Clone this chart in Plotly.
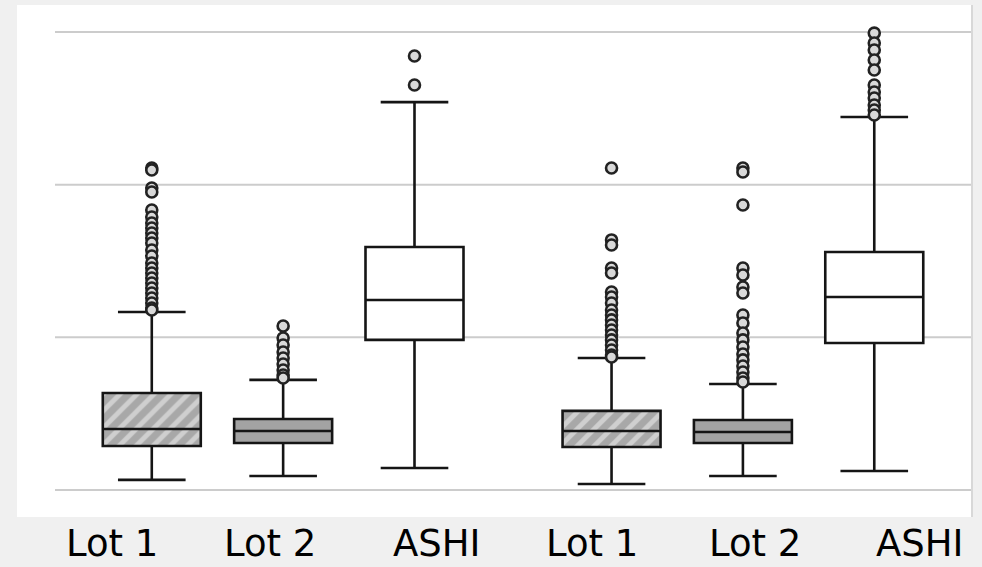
import plotly.graph_objects as go

# Group labels along the bottom
labels = ["Lot 1", "Lot 2", "ASHI", "Lot 1", "Lot 2", "ASHI"]

# Box positions (two groups of three)
positions = [0, 1, 2, 3.5, 4.5, 5.5]

# Summary statistics per box
lower = [0.066, 0.092, 0.144, 0.039, 0.092, 0.124]
q1 = [0.288, 0.308, 0.983, 0.282, 0.308, 0.963]
median = [0.399, 0.386, 1.245, 0.386, 0.380, 1.264]
q3 = [0.635, 0.465, 1.592, 0.518, 0.458, 1.559]
upper = [1.166, 0.721, 2.541, 0.865, 0.694, 2.443]

# Outlying observations per box
out_lot1_a = [2.109, 2.096, 1.978, 1.952, 1.834, 1.788, 1.749, 1.716, 1.683, 1.651,
              1.618, 1.572, 1.533, 1.487, 1.454, 1.421, 1.389, 1.356, 1.323, 1.290,
              1.258, 1.225, 1.192, 1.179]
out_lot2_a = [1.074, 0.996, 0.950, 0.904, 0.865, 0.825, 0.786, 0.753, 0.734]
out_ashi_a = [2.653, 2.843]
out_lot1_b = [2.109, 1.638, 1.605, 1.454, 1.421, 1.297, 1.264, 1.225, 1.179, 1.146,
              1.114, 1.081, 1.048, 1.015, 0.983, 0.950, 0.917, 0.884, 0.871]
out_lot2_b = [2.109, 2.083, 1.867, 1.454, 1.408, 1.330, 1.290, 1.146, 1.094, 1.028,
              0.983, 0.937, 0.891, 0.852, 0.812, 0.773, 0.734, 0.707]
out_ashi_b = [2.993, 2.928, 2.882, 2.817, 2.751, 2.653, 2.607, 2.568, 2.522, 2.489, 2.456]
outliers = [out_lot1_a, out_lot2_a, out_ashi_a, out_lot1_b, out_lot2_b, out_ashi_b]

# Horizontal reference lines
grid_values = [0, 1, 2, 3]

styles = ["hatch", "gray", "white", "hatch", "gray", "white"]
box_width = 0.746

fig = go.Figure()

for i, pos in enumerate(positions):
    if styles[i] == "hatch":
        fig.add_trace(go.Bar(
            x=[pos], y=[q3[i] - q1[i]], base=[q1[i]], width=box_width,
            marker=dict(color="#b8b8b8", line=dict(width=0),
                        pattern=dict(shape="/", fgcolor="#f6f6f6", bgcolor="#a8a8a8",
                                     size=12, solidity=0.4)),
            showlegend=False, hoverinfo="skip",
        ))
        fill = "rgba(0,0,0,0)"
    elif styles[i] == "gray":
        fill = "#a3a3a3"
    else:
        fill = "#ffffff"

    fig.add_trace(go.Box(
        x=[pos], q1=[q1[i]], median=[median[i]], q3=[q3[i]],
        lowerfence=[lower[i]], upperfence=[upper[i]],
        width=box_width, whiskerwidth=0.69,
        fillcolor=fill, line=dict(color="#151515", width=2.6),
        boxpoints=False, showlegend=False,
    ))

    fig.add_trace(go.Scatter(
        x=[pos] * len(outliers[i]), y=outliers[i], mode="markers",
        marker=dict(symbol="circle", size=11, color="#d9d9d9",
                    line=dict(color="#222222", width=2.6)),
        showlegend=False, hoverinfo="skip",
    ))

# Gridlines start a little to the right of the white panel's left edge
for g in grid_values:
    fig.add_shape(type="line", xref="paper", yref="y",
                  x0=(55 - 17) / 955, x1=1, y0=g, y1=g,
                  line=dict(color="#cccccc", width=2), layer="below")

# Thin border on the right side of the panel
fig.add_shape(type="line", xref="paper", yref="paper", x0=1, x1=1, y0=0, y1=1,
              line=dict(color="#d8d8d8", width=2))

# Category labels beneath the panel
label_px = [112, 270, 437, 592, 755, 920]
for lab, px in zip(labels, label_px):
    fig.add_annotation(text=lab, xref="paper", yref="paper",
                       x=(px - 17) / 955, y=-0.0527, xanchor="center", yanchor="middle",
                       showarrow=False,
                       font=dict(family="DejaVu Sans", size=37, color="#000000"))

fig.update_layout(
    width=982, height=567,
    margin=dict(l=17, r=10, t=5, b=50),
    paper_bgcolor="#f0f0f0",
    plot_bgcolor="#ffffff",
    barmode="overlay",
    xaxis=dict(range=[-1.026, 6.244], showgrid=False, zeroline=False,
               showticklabels=False, ticks=""),
    yaxis=dict(range=[-0.177, 3.177], showgrid=False, zeroline=False,
               showticklabels=False, ticks=""),
)

fig.write_html("out.html")
